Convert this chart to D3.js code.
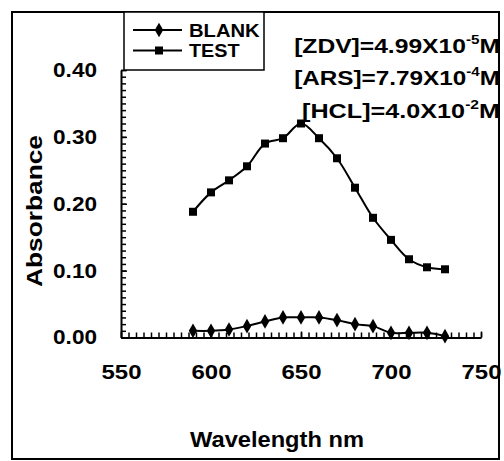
<!DOCTYPE html>
<html>
<head>
<meta charset="utf-8">
<script src="https://cdn.jsdelivr.net/npm/d3@7"></script>
<style>
	body { margin: 0; background: #fff; }
	svg text { font-family: "Liberation Sans", Arial, sans-serif; font-weight: bold; fill: #000; }
</style>
</head>
<body>
<svg id="chart" width="504" height="461"></svg>
<script>
// wavelengths (nm)
const wavelength = [590, 600, 610, 620, 630, 640, 650, 660, 670, 680, 690, 700, 710, 720, 730];
// absorbance readings
const blank = [0.010, 0.010, 0.012, 0.017, 0.024, 0.030, 0.030, 0.030, 0.026, 0.020, 0.017, 0.007, 0.007, 0.007, 0.002];
const test = [0.188, 0.217, 0.235, 0.256, 0.290, 0.298, 0.320, 0.298, 0.268, 0.224, 0.179, 0.146, 0.117, 0.105, 0.102];
const xTicks = [550, 600, 650, 700, 750];
const yTicks = [0.00, 0.10, 0.20, 0.30, 0.40];
const seriesNames = ["BLANK", "TEST"];
const notes = [
	{ pre: "[ZDV]=4.99X10", sup: "-5", post: "M" },
	{ pre: "[ARS]=7.79X10", sup: "-4", post: "M" },
	{ pre: "[HCL]=4.0X10", sup: "-2", post: "M" }
];

(function() {
	const svg = d3.select('#chart');

	// stretch a text horizontally to a target width, keeping its anchor point fixed
	function stretch(sel, width, ax) {
		sel.each(function() {
			const w = this.getBBox().width;
			const k = width / w;
			d3.select(this).attr('transform', 'translate(' + ax + ',0) scale(' + k + ',1) translate(' + (-ax) + ',0)');
		});
	}

	svg.append('rect')
		.attr('x', 12).attr('y', 12)
		.attr('width', 487).attr('height', 447)
		.attr('fill', '#fff')
		.attr('stroke', '#000')
		.attr('stroke-width', 2);

	const x = d3.scaleLinear().domain([550, 750]).range([121, 481]);
	const y = d3.scaleLinear().domain([0, 0.4]).range([337.5, 70]);

	// minor ticks first, majors on top
	const xMinor = d3.range(550, 750.001, 50 / 12);
	const yMinor = d3.range(0, 0.4001, 0.01);

	svg.append('g')
		.attr('transform', 'translate(0,' + y(0) + ')')
		.call(d3.axisBottom(x).tickValues(xMinor).tickFormat('').tickSizeInner(-5).tickSizeOuter(0))
		.call(function(g) { g.select('.domain').remove(); })
		.selectAll('line').attr('stroke-width', 1.5);

	svg.append('g')
		.attr('transform', 'translate(' + x(550) + ',0)')
		.call(d3.axisLeft(y).tickValues(yMinor).tickFormat('').tickSizeInner(-5).tickSizeOuter(0))
		.call(function(g) { g.select('.domain').remove(); })
		.selectAll('line').attr('stroke-width', 1.5);

	const xAxis = svg.append('g')
		.attr('transform', 'translate(0,' + y(0) + ')')
		.call(d3.axisBottom(x).tickValues(xTicks).tickFormat(d3.format('d')).tickSizeInner(-6).tickSizeOuter(0).tickPadding(27));
	xAxis.select('.domain').attr('stroke-width', 2);
	xAxis.selectAll('line').attr('stroke-width', 1.5);
	xAxis.selectAll('text').attr('font-size', 20).attr('font-family', null)
		.call(stretch, 40, 0);

	const yAxis = svg.append('g')
		.attr('transform', 'translate(' + x(550) + ',0)')
		.call(d3.axisLeft(y).tickValues(yTicks).tickFormat(d3.format('.2f')).tickSizeInner(-6).tickSizeOuter(0).tickPadding(24));
	yAxis.select('.domain').attr('stroke-width', 2);
	yAxis.selectAll('line').attr('stroke-width', 1.5);
	yAxis.selectAll('text').attr('font-size', 20).attr('font-family', null)
		.call(stretch, 44, -24);

	// axis titles
	svg.append('text')
		.attr('x', 277).attr('y', 447)
		.attr('text-anchor', 'middle')
		.attr('font-size', 22)
		.text('Wavelength nm')
		.call(stretch, 174, 277);

	svg.append('text')
		.attr('transform', 'translate(42,211) rotate(-90)')
		.attr('text-anchor', 'middle')
		.attr('font-size', 22)
		.attr('textLength', 152)
		.attr('lengthAdjust', 'spacingAndGlyphs')
		.text('Absorbance');

	// series
	const line = d3.line()
		.x(function(d) { return x(d[0]); })
		.y(function(d) { return y(d[1]); })
		.curve(d3.curveCatmullRom);

	const diamond = d3.symbol().type(d3.symbolDiamond).size(62);
	const square = d3.symbol().type(d3.symbolSquare).size(64);

	[blank, test].forEach(function(vals, i) {
		const pts = wavelength.map(function(w, j) { return [w, vals[j]]; });
		svg.append('path')
			.attr('d', line(pts))
			.attr('fill', 'none')
			.attr('stroke', '#000')
			.attr('stroke-width', 2);
		svg.selectAll('.m' + i)
			.data(pts)
			.enter().append('path')
			.attr('class', 'm' + i)
			.attr('transform', function(d) { return 'translate(' + x(d[0]) + ',' + y(d[1]) + ')'; })
			.attr('d', i === 0 ? diamond : square)
			.attr('fill', '#000');
	});

	// legend
	const legend = svg.append('g');
	legend.append('rect')
		.attr('x', 124).attr('y', 12)
		.attr('width', 140).attr('height', 58)
		.attr('fill', '#fff')
		.attr('stroke', '#000')
		.attr('stroke-width', 1.5);
	seriesNames.forEach(function(name, i) {
		const ly = 30 + i * 20.5;
		legend.append('line')
			.attr('x1', 133).attr('x2', 182)
			.attr('y1', ly).attr('y2', ly)
			.attr('stroke', '#000')
			.attr('stroke-width', 2);
		legend.append('path')
			.attr('transform', 'translate(159,' + ly + ')')
			.attr('d', i === 0 ? diamond : square)
			.attr('fill', '#000');
		legend.append('text')
			.attr('x', 189).attr('y', ly + 7)
			.attr('font-size', 19)
			.text(name)
			.call(stretch, i === 0 ? 71 : 51, 189);
	});

	// concentration notes
	notes.forEach(function(n, i) {
		const t = svg.append('text')
			.attr('x', 500).attr('y', 53 + i * 32.5)
			.attr('text-anchor', 'end')
			.attr('font-size', 21);
		t.append('tspan').text(n.pre);
		t.append('tspan').attr('font-size', 13).attr('dy', -9).text(n.sup);
		t.append('tspan').attr('dy', 9).text(n.post);
		stretch(t, i === 2 ? 198 : 206, 500);
	});
})();
</script>
</body>
</html>
